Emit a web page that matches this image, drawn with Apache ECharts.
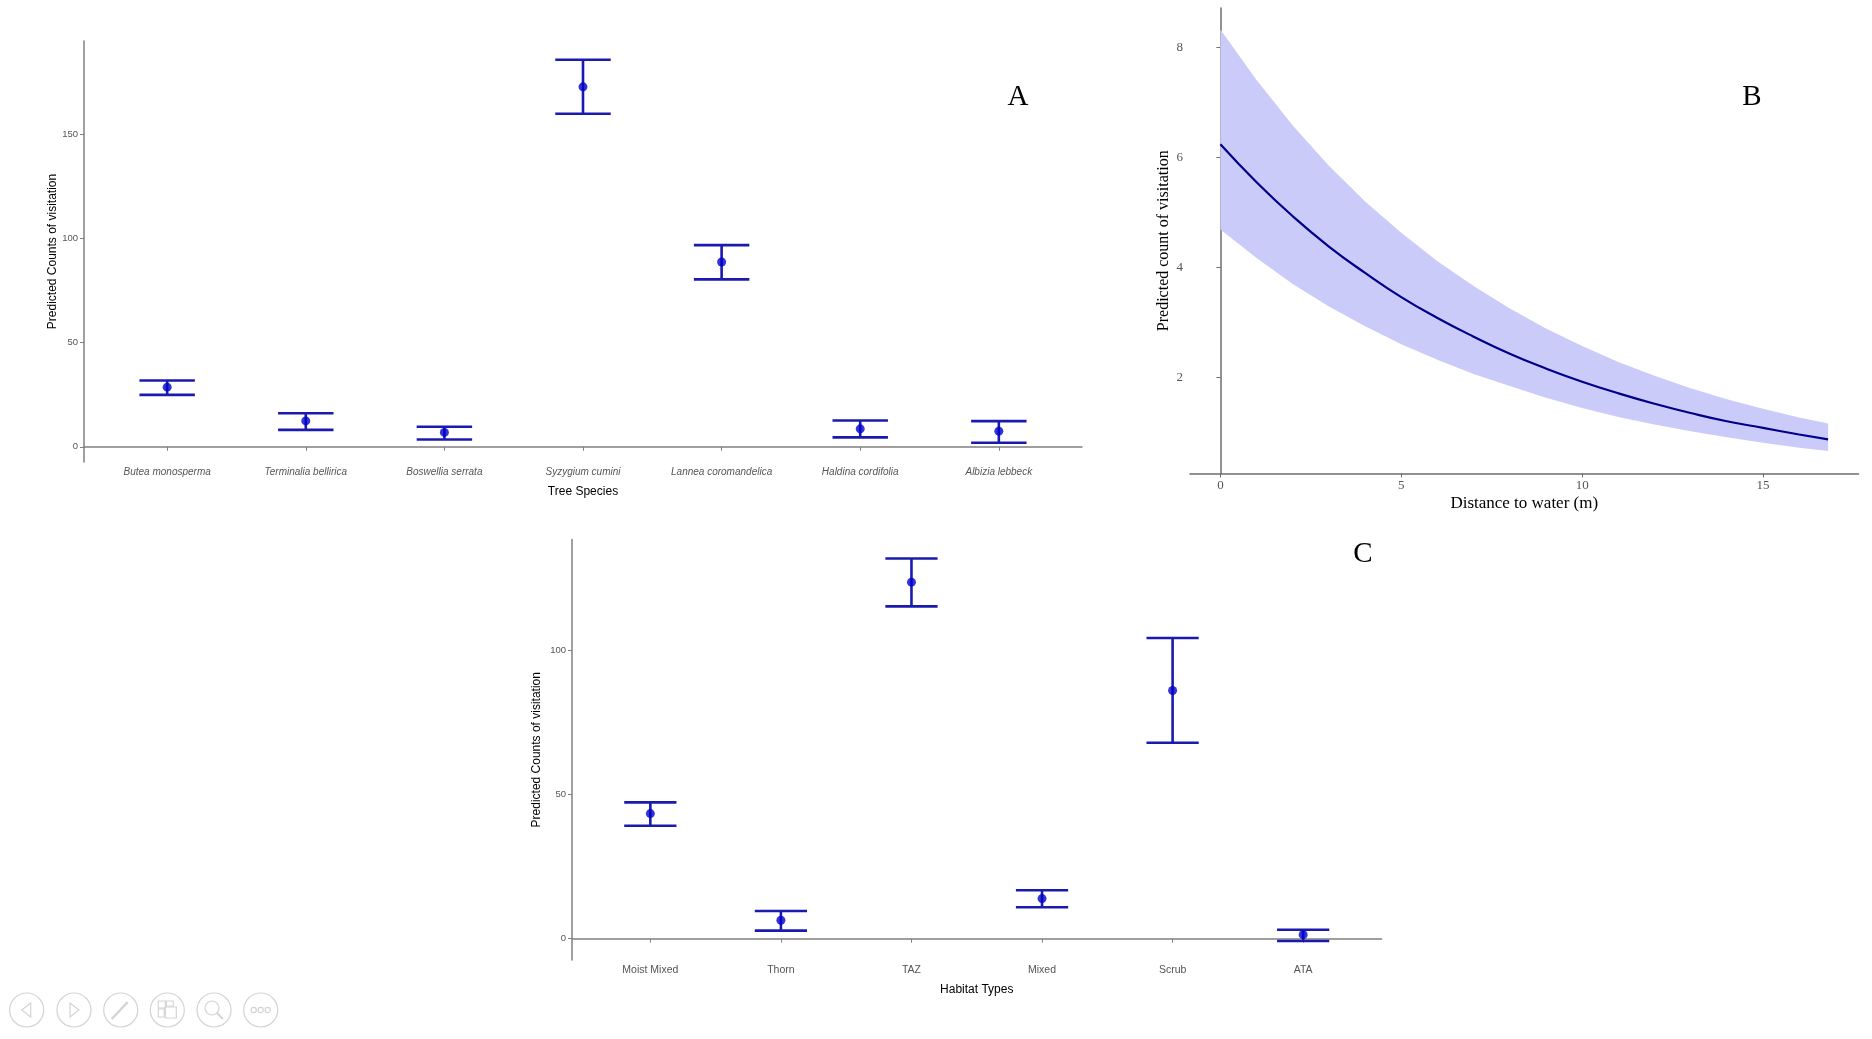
<!DOCTYPE html>
<html>
<head>
<meta charset="utf-8">
<title>Predicted visitation</title>
<script src="https://cdn.jsdelivr.net/npm/echarts@6.0.0/dist/echarts.min.js"></script>
<style>
  html, body { margin: 0; padding: 0; background: #fff; }
  #main { width: 1872px; height: 1039px; }
</style>
</head>
<body>
<div id="main"></div>
<script>
// panel A: tree species
var speciesNames = ['Butea monosperma', 'Terminalia bellirica', 'Boswellia serrata', 'Syzygium cumini',
    'Lannea coromandelica', 'Haldina cordifolia', 'Albizia lebbeck'];
var speciesFit = [28.6, 12.4, 6.9, 172.6, 88.6, 8.6, 7.5];
var speciesLow = [24.9, 8.1, 3.5, 159.7, 80.3, 4.5, 1.9];
var speciesHigh = [31.8, 16.1, 9.6, 185.6, 96.7, 12.6, 12.3];
var countTicksA = [0, 50, 100, 150];

// panel C: habitat types
var habitatNames = ['Moist Mixed', 'Thorn', 'TAZ', 'Mixed', 'Scrub', 'ATA'];
var habitatFit = [43.4, 6.4, 123.7, 13.9, 86.1, 1.4];
var habitatLow = [39.2, 2.8, 115.3, 10.9, 68.0, -0.8];
var habitatHigh = [47.3, 9.6, 131.9, 16.8, 104.3, 3.1];
var countTicksC = [0, 50, 100];

// panel B: distance to water
var distance = [0, 1, 2, 3, 4, 5, 6, 7, 8, 9, 10, 11, 12, 13, 14, 15, 16, 16.8];
var distFit = [6.24, 5.55, 4.93, 4.38, 3.90, 3.46, 3.08, 2.74, 2.43, 2.16, 1.92, 1.71, 1.52, 1.35, 1.20, 1.08, 0.96, 0.87];
var distLow = [4.69, 4.17, 3.70, 3.29, 2.93, 2.60, 2.32, 2.06, 1.84, 1.63, 1.44, 1.28, 1.14, 1.02, 0.91, 0.81, 0.72, 0.66];
var distHigh = [8.33, 7.41, 6.58, 5.85, 5.20, 4.63, 4.11, 3.66, 3.25, 2.89, 2.57, 2.28, 2.03, 1.80, 1.60, 1.43, 1.27, 1.16];
var distTicksX = [0, 5, 10, 15];
var distTicksY = [2, 4, 6, 8];

var barColor = '#1a1aae';
var pointColor = '#0000cd';
var bandColor = '#cbcbf9';
var axisGrey = '#808080';
var sans = 'Liberation Sans, Arial, sans-serif';
var serif = 'Liberation Serif, Times New Roman, serif';

var chart = echarts.init(document.getElementById('main'));

// error bar with caps, width 0.4 category units
function errorBar(params, api) {
    var x = api.value(0);
    var top = api.coord([x, api.value(2)]);
    var bot = api.coord([x, api.value(1)]);
    var l = api.coord([x - 0.2, api.value(2)])[0];
    var r = api.coord([x + 0.2, api.value(2)])[0];
    var st = {stroke: barColor, lineWidth: 2.6};
    return {
        type: 'group',
        children: [
            {type: 'line', shape: {x1: top[0], y1: top[1], x2: bot[0], y2: bot[1]}, style: st},
            {type: 'line', shape: {x1: l, y1: top[1], x2: r, y2: top[1]}, style: st},
            {type: 'line', shape: {x1: l, y1: bot[1], x2: r, y2: bot[1]}, style: st}
        ]
    };
}

// confidence ribbon: one polygon, upper edge forward then lower edge back
function ribbon(params, api) {
    if (params.dataIndex !== 0) return null;
    var pts = [];
    for (var i = 0; i < distance.length; i++) pts.push(api.coord([distance[i], distHigh[i]]));
    for (var j = distance.length - 1; j >= 0; j--) pts.push(api.coord([distance[j], distLow[j]]));
    return {type: 'polygon', shape: {points: pts}, style: {fill: bandColor}};
}

function catAxis(idx, names, maxV, italic, nameText, gap, fs) {
    var ticks = names.map(function (n, i) { return i + 1; });
    return {
        type: 'value', gridIndex: idx, min: 0.4, max: maxV,
        splitLine: {show: false},
        axisLine: {show: true, lineStyle: {color: axisGrey, width: 1.5}},
        axisTick: {show: true, length: 4, customValues: ticks, lineStyle: {color: axisGrey}},
        axisLabel: {
            customValues: ticks, margin: 5, color: '#555', fontFamily: sans, fontSize: fs,
            fontStyle: italic ? 'italic' : 'normal',
            formatter: function (v) { return names[Math.round(v) - 1]; }
        },
        name: nameText, nameLocation: 'middle', nameGap: gap, nameMoveOverlap: false,
        nameTextStyle: {color: '#000', fontFamily: sans, fontSize: 12}
    };
}

function countAxis(idx, minV, maxV, ticks, gap) {
    return {
        type: 'value', gridIndex: idx, min: minV, max: maxV,
        splitLine: {show: false},
        axisLine: {show: true, lineStyle: {color: axisGrey, width: 1.5}},
        axisTick: {show: true, length: 4, customValues: ticks, lineStyle: {color: axisGrey}},
        axisLabel: {customValues: ticks, margin: 6, color: '#555', fontFamily: sans, fontSize: 9.5},
        name: 'Predicted Counts of visitation', nameLocation: 'middle', nameGap: gap, nameMoveOverlap: false,
        nameTextStyle: {color: '#000', fontFamily: sans, fontSize: 12}
    };
}

// bottom-left slideshow buttons
var toolbar = [];
[26.7, 74, 120.7, 167.3, 214, 260.7].forEach(function (cx, k) {
    var cy = 1010, s = {fill: 'none', stroke: '#d4d4d4', lineWidth: 1.2};
    toolbar.push({type: 'circle', shape: {cx: cx, cy: cy, r: 17}, style: s, silent: true});
    if (k === 0) toolbar.push({type: 'polygon', shape: {points: [[cx + 4, cy - 7], [cx - 5, cy], [cx + 4, cy + 7]]}, style: s});
    if (k === 1) toolbar.push({type: 'polygon', shape: {points: [[cx - 4, cy - 7], [cx + 5, cy], [cx - 4, cy + 7]]}, style: s});
    if (k === 2) toolbar.push({type: 'line', shape: {x1: cx - 9, y1: cy + 9, x2: cx + 7, y2: cy - 8}, style: {stroke: '#d4d4d4', lineWidth: 2.5}});
    if (k === 3) {
        toolbar.push({type: 'rect', shape: {x: cx - 9, y: cy - 9, width: 7, height: 7}, style: s});
        toolbar.push({type: 'rect', shape: {x: cx - 1, y: cy - 9, width: 7, height: 5}, style: s});
        toolbar.push({type: 'rect', shape: {x: cx - 9, y: cy - 1, width: 6, height: 8}, style: s});
        toolbar.push({type: 'rect', shape: {x: cx - 2, y: cy - 3, width: 11, height: 11}, style: s});
    }
    if (k === 4) {
        toolbar.push({type: 'circle', shape: {cx: cx - 2, cy: cy - 2, r: 7}, style: s});
        toolbar.push({type: 'line', shape: {x1: cx + 3, y1: cy + 3, x2: cx + 9, y2: cy + 9}, style: {stroke: '#d4d4d4', lineWidth: 2}});
    }
    if (k === 5) {
        [-7, 0, 7].forEach(function (d) {
            toolbar.push({type: 'circle', shape: {cx: cx + d, cy: cy, r: 2.6}, style: s});
        });
    }
});

function panelLetter(t, x, y) {
    return {type: 'text', x: x, y: y, style: {text: t, fontFamily: serif, fontSize: 29, fill: '#000', align: 'center', verticalAlign: 'middle'}};
}

chart.setOption({
    backgroundColor: '#fff',
    animation: false,
    grid: [
        {left: 84, top: 41, width: 998, height: 421},
        {left: 1190, top: 8, width: 668.5, height: 465.5},
        {left: 572, top: 539.5, width: 809.5, height: 420.5}
    ],
    xAxis: [
        catAxis(0, speciesNames, 7.6, true, 'Tree Species', 24, 10),
        {
            type: 'value', gridIndex: 1, min: -0.84, max: 17.64,
            splitLine: {show: false},
            axisLine: {show: true, lineStyle: {color: '#6e6e6e', width: 1.5}},
            axisTick: {show: true, length: 4, customValues: distTicksX, lineStyle: {color: '#6e6e6e'}},
            axisLabel: {customValues: distTicksX, margin: 6, color: '#555', fontFamily: serif, fontSize: 13},
            name: 'Distance to water (m)', nameLocation: 'middle', nameGap: 22, nameMoveOverlap: false,
            nameTextStyle: {color: '#000', fontFamily: serif, fontSize: 17}
        },
        catAxis(2, habitatNames, 6.6, false, 'Habitat Types', 24, 10.5)
    ],
    yAxis: [
        countAxis(0, -7.3, 194.6, countTicksA, 25),
        {
            type: 'value', gridIndex: 1, min: 0.25, max: 8.72,
            splitLine: {show: false},
            axisLine: {show: true, lineStyle: {color: '#6e6e6e', width: 1.5}},
            axisTick: {show: true, length: 4, customValues: distTicksY, lineStyle: {color: '#6e6e6e'}},
            axisLabel: {customValues: distTicksY, margin: 7, color: '#555', fontFamily: serif, fontSize: 13},
            name: 'Predicted count of visitation', nameLocation: 'middle', nameGap: 18, nameMoveOverlap: false,
            nameTextStyle: {color: '#000', fontFamily: serif, fontSize: 16}
        },
        countAxis(2, -7.4, 138.5, countTicksC, 29)
    ],
    series: [
        {
            name: 'species CI', type: 'custom', xAxisIndex: 0, yAxisIndex: 0,
            renderItem: errorBar, encode: {x: 0, y: [1, 2]},
            data: speciesNames.map(function (n, i) { return [i + 1, speciesLow[i], speciesHigh[i]]; })
        },
        {
            name: 'species fit', type: 'scatter', xAxisIndex: 0, yAxisIndex: 0,
            symbolSize: 9, itemStyle: {color: pointColor},
            data: speciesFit.map(function (v, i) { return [i + 1, v]; })
        },
        {
            name: 'habitat CI', type: 'custom', xAxisIndex: 2, yAxisIndex: 2,
            renderItem: errorBar, encode: {x: 0, y: [1, 2]},
            data: habitatNames.map(function (n, i) { return [i + 1, habitatLow[i], habitatHigh[i]]; })
        },
        {
            name: 'habitat fit', type: 'scatter', xAxisIndex: 2, yAxisIndex: 2,
            symbolSize: 9, itemStyle: {color: pointColor},
            data: habitatFit.map(function (v, i) { return [i + 1, v]; })
        },
        {
            name: 'ci band', type: 'custom', xAxisIndex: 1, yAxisIndex: 1,
            renderItem: ribbon, encode: {x: 0, y: [1, 2]},
            data: distance.map(function (d, i) { return [d, distLow[i], distHigh[i]]; })
        },
        {
            name: 'fit', type: 'line', xAxisIndex: 1, yAxisIndex: 1,
            smooth: true, symbol: 'none', lineStyle: {color: '#00008b', width: 2.2},
            data: distance.map(function (d, i) { return [d, distFit[i]]; })
        }
    ],
    graphic: [
        panelLetter('A', 1018, 97),
        panelLetter('B', 1752, 97),
        panelLetter('C', 1363, 554)
    ].concat(toolbar)
});
</script>
</body>
</html>
